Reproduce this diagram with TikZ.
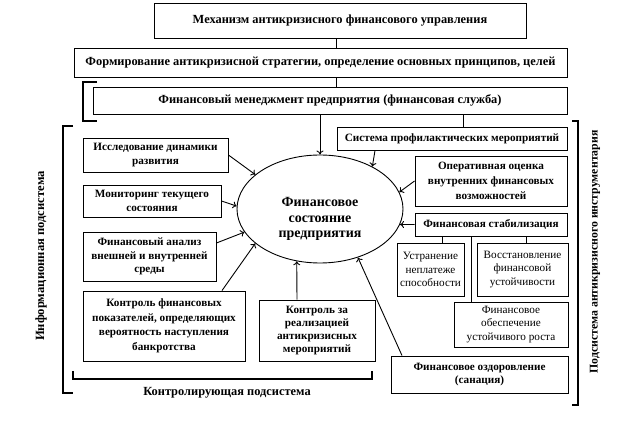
\documentclass[tikz,border=0pt]{standalone}
\usepackage{fontspec}
\setmainfont{Liberation Serif}
\usetikzlibrary{shapes.geometric,arrows.meta}

\begin{document}
\begin{tikzpicture}[x=1pt,y=-1pt,line width=0.9pt,>={To[length=4pt,width=7pt]},
  blk/.style={draw,rectangle,align=center,inner sep=0pt,font=\bfseries\fontsize{11.2}{13.5}\selectfont},
  wide/.style={blk,font=\bfseries\fontsize{12.4}{14}\selectfont},
  lgt/.style={blk,font=\fontsize{11.2}{13.5}\selectfont},
  brk/.style={line width=1.2pt}]
\useasboundingbox (0,0) rectangle (622,422);

% Upper chain of boxes
\node[wide,minimum width=372pt,minimum height=35pt] (mech) at (340,20.5) {Механизм антикризисного финансового управления};
\node[wide,minimum width=493pt,minimum height=29pt] (strat) at (320.5,62.5) {Формирование антикризисной стратегии, определение основных принципов, целей};
\node[wide,minimum width=474pt,minimum height=27pt] (fm) at (330,100.5) {Финансовый менеджмент предприятия (финансовая служба)};
\draw[brk] (97,82) -- (83,82) -- (83,121) -- (97,121);

% Central ellipse
\node[draw,ellipse,minimum width=166pt,minimum height=108pt,inner sep=0pt] (ell) at (320,209) {};
\node[align=center,font=\bfseries\fontsize{14}{15.5}\selectfont] (fstxt) at (320,219) {Финансовое\\состояние\\предприятия};

% Information subsystem (left)
\node[blk,minimum width=145pt,minimum height=34pt] (issl) at (155.5,155) {Исследование динамики\\развития};
\node[blk,minimum width=138pt,minimum height=32pt] (monit) at (152,201) {Мониторинг текущего\\состояния};
\node[blk,minimum width=133pt,minimum height=49pt] (finan) at (149.5,256.5) {Финансовый анализ\\внешней и внутренней\\среды};
\node[blk,minimum width=162pt,minimum height=70pt,font=\bfseries\fontsize{11.2}{14.5}\selectfont] (kontrfin) at (164,326) {Контроль финансовых\\показателей, определяющих\\вероятность наступления\\банкротства};
\node[blk,minimum width=116pt,minimum height=61pt,font=\bfseries\fontsize{11.2}{13}\selectfont] (kontrreal) at (317,330.5) {Контроль за\\реализацией\\антикризисных\\мероприятий};

% Anti-crisis tools (right)
\node[blk,minimum width=230pt,minimum height=23pt] (sist) at (452,138.5) {Система профилактических мероприятий};
\node[blk,minimum width=152pt,minimum height=50pt,font=\bfseries\fontsize{11.2}{15}\selectfont] (oper) at (491,181) {Оперативная оценка\\внутренних финансовых\\возможностей};
\node[blk,minimum width=152pt,minimum height=23pt] (stab) at (491,224.5) {Финансовая стабилизация};
\node[lgt,minimum width=67pt,minimum height=53pt] (ustr) at (430.5,269.5) {Устранение\\неплатеже\\способности};
\node[lgt,minimum width=91pt,minimum height=53pt] (vosst) at (522.5,269.5) {Восстановление\\финансовой\\устойчивости};
\node[lgt,minimum width=114pt,minimum height=45pt] (obesp) at (511,324.5) {Финансовое\\обеспечение\\устойчивого роста};
\node[blk,minimum width=177pt,minimum height=37pt] (ozdor) at (479.5,374.5) {Финансовое оздоровление\\(санация)};

% Connectors
\draw ([xshift=-4pt]mech.south) -- ([xshift=-4pt]mech.south |- strat.north);
\draw ([xshift=15.5pt]strat.south) -- ([xshift=15.5pt]strat.south |- fm.north);
\draw[->] (fm.south -| ell.north) -- (ell.north);
\draw ([xshift=133pt]fm.south) -- ([xshift=133pt]fm.south |- sist.north);
\draw[->] ([xshift=-77pt]sist.south) -- (ell.39);
\draw[->] (oper.west) -- (ell.12);
\draw[->] (stab.west) -- (ell.-11);
\draw ([xshift=-49pt]stab.south) -- ([xshift=-49pt]stab.south |- ustr.north);
\draw ([xshift=35pt]stab.south) -- ([xshift=35pt]stab.south |- vosst.north);
\draw ([xshift=-20pt]stab.south) -- ([xshift=-20pt]stab.south |- obesp.north);
\draw[->] ([xshift=-77.5pt]ozdor.north) -- (ell.-52);
\draw[->] ([xshift=-20pt]kontrreal.north) -- (ell.-114);
\draw[->] ([xshift=58pt]kontrfin.north) -- (ell.-152);
\draw[->] ([yshift=13.5pt]finan.east) -- (ell.-163);
\draw[->] (monit.east) -- (ell.178);
\draw[->] (issl.east) -- (ell.152);

% Brackets and subsystem labels
\draw[brk] (73,126) -- (63,126) -- (63,393) -- (73,393);
\draw[brk] (73,371) -- (73,379) -- (372,379) -- (372,371);
\draw[brk] (572,121) -- (578,121) -- (578,405) -- (572,405);
\node[rotate=90,font=\bfseries\fontsize{12.6}{14}\selectfont] (infolbl) at (41,256) {Информационная подсистема};
\node[rotate=90,font=\bfseries\fontsize{11.8}{13}\selectfont] (toollbl) at (595,252) {Подсистема антикризисного инструментария};
\node[font=\bfseries\fontsize{12.4}{14}\selectfont] (ctrllbl) at (227,393) {Контролирующая подсистема};
\end{tikzpicture}
\end{document}
